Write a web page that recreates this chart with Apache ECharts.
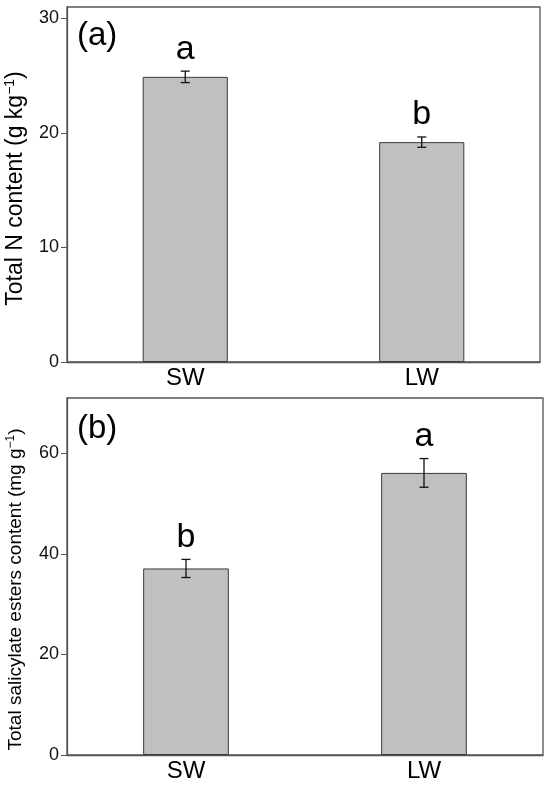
<!DOCTYPE html>
<html>
<head>
<meta charset="utf-8">
<script src="https://cdn.jsdelivr.net/npm/echarts@6/dist/echarts.min.js"></script>
<style>
  html, body { margin: 0; padding: 0; background: #fff; }
  #chart { width: 550px; height: 789px; }
</style>
</head>
<body>
<div id="chart"></div>
<script>
// data
const categories = ["SW", "LW"];
const nMean = [24.9, 19.2];
const nErr = [0.5, 0.45];
const nLetters = ["a", "b"];
const sMean = [37.1, 56.1];
const sErr = [1.8, 2.85];
const sLetters = ["b", "a"];
const nTicks = [0, 10, 20, 30];
const sTicks = [0, 20, 40, 60];

const font = "Liberation Sans";
const frame = "#555555";

function errRows(mean, err) {
  return mean.map(function (m, i) { return [i, m, err[i]]; });
}

function errRenderer(letters) {
  return function (params, api) {
    let i = api.value(0);
    let m = api.value(1);
    let e = api.value(2);
    let top = api.coord([i, m + e]);
    let bot = api.coord([i, m - e]);
    let cap = 4.5;
    let style = { stroke: "#111", lineWidth: 1.3 };
    return {
      type: "group",
      children: [
        { type: "line", shape: { x1: top[0], y1: top[1], x2: bot[0], y2: bot[1] }, style: style },
        { type: "line", shape: { x1: top[0] - cap, y1: top[1], x2: top[0] + cap, y2: top[1] }, style: style },
        { type: "line", shape: { x1: bot[0] - cap, y1: bot[1], x2: bot[0] + cap, y2: bot[1] }, style: style },
        {
          type: "text",
          x: top[0],
          y: top[1] - 5,
          style: {
            text: letters[params.dataIndex],
            font: "34px " + font,
            fill: "#000",
            align: "center",
            verticalAlign: "bottom",
          },
        },
      ],
    };
  };
}

// shift pads the name along the axis (pushes it down the page)
function yAxis(gridIndex, max, ticks, name, nameSize, supSize, gap, shift) {
  return {
    type: "value",
    gridIndex: gridIndex,
    min: 0,
    max: max,
    interval: ticks[1] - ticks[0],
    name: name,
    nameLocation: "middle",
    nameGap: gap,
    nameTextStyle: {
      fontFamily: font,
      fontSize: nameSize,
      color: "#000",
      lineHeight: nameSize + 2,
      padding: [0, shift, 0, 0],
      rich: {
        sup: { fontFamily: font, fontSize: supSize, color: "#000", verticalAlign: "top", lineHeight: supSize },
      },
    },
    axisLine: { show: true, lineStyle: { color: frame, width: 1.3 } },
    axisTick: { show: true, length: 6, customValues: ticks, lineStyle: { color: frame } },
    axisLabel: { customValues: ticks, fontFamily: font, fontSize: 18, color: "#111", margin: 8 },
    splitLine: { show: false },
  };
}

function xAxis(gridIndex) {
  return {
    type: "category",
    gridIndex: gridIndex,
    data: categories,
    axisLine: { show: true, lineStyle: { color: frame, width: 1.3 } },
    axisTick: { show: false },
    axisLabel: { fontFamily: font, fontSize: 24, color: "#000", margin: 4 },
  };
}

const barStyle = { color: "#c0c0c0", borderColor: "#3a3a3a", borderWidth: 1 };

const option = {
  animation: false,
  backgroundColor: "#fff",
  title: [
    { text: "(a)", left: 72, top: 14, textStyle: { fontFamily: font, fontSize: 33, fontWeight: "normal", color: "#000" } },
    { text: "(b)", left: 72, top: 407, textStyle: { fontFamily: font, fontSize: 33, fontWeight: "normal", color: "#000" } },
  ],
  grid: [
    {
      left: 67, top: 7, width: 473, height: 355, outerBoundsMode: "none", containLabel: false,
      show: true, borderColor: frame, borderWidth: 1.3, backgroundColor: "transparent",
    },
    {
      left: 67, top: 398, width: 476, height: 357, outerBoundsMode: "none", containLabel: false,
      show: true, borderColor: frame, borderWidth: 1.3, backgroundColor: "transparent",
    },
  ],
  xAxis: [xAxis(0), xAxis(1)],
  yAxis: [
    yAxis(0, 31, nTicks, "Total N content (g kg{sup|−1})", 23, 14, 34, 8),
    yAxis(1, 71, sTicks, "Total salicylate esters content (mg g{sup|−1})", 19, 12, 41, 26),
  ],
  series: [
    { type: "bar", xAxisIndex: 0, yAxisIndex: 0, data: nMean, barWidth: "36%", itemStyle: barStyle },
    { type: "bar", xAxisIndex: 1, yAxisIndex: 1, data: sMean, barWidth: "36%", itemStyle: barStyle },
    {
      type: "custom", xAxisIndex: 0, yAxisIndex: 0, data: errRows(nMean, nErr),
      encode: { x: 0, y: 1 }, renderItem: errRenderer(nLetters), z: 5,
    },
    {
      type: "custom", xAxisIndex: 1, yAxisIndex: 1, data: errRows(sMean, sErr),
      encode: { x: 0, y: 1 }, renderItem: errRenderer(sLetters), z: 5,
    },
  ],
};

const chart = echarts.init(document.getElementById("chart"));
chart.setOption(option);
</script>
</body>
</html>
